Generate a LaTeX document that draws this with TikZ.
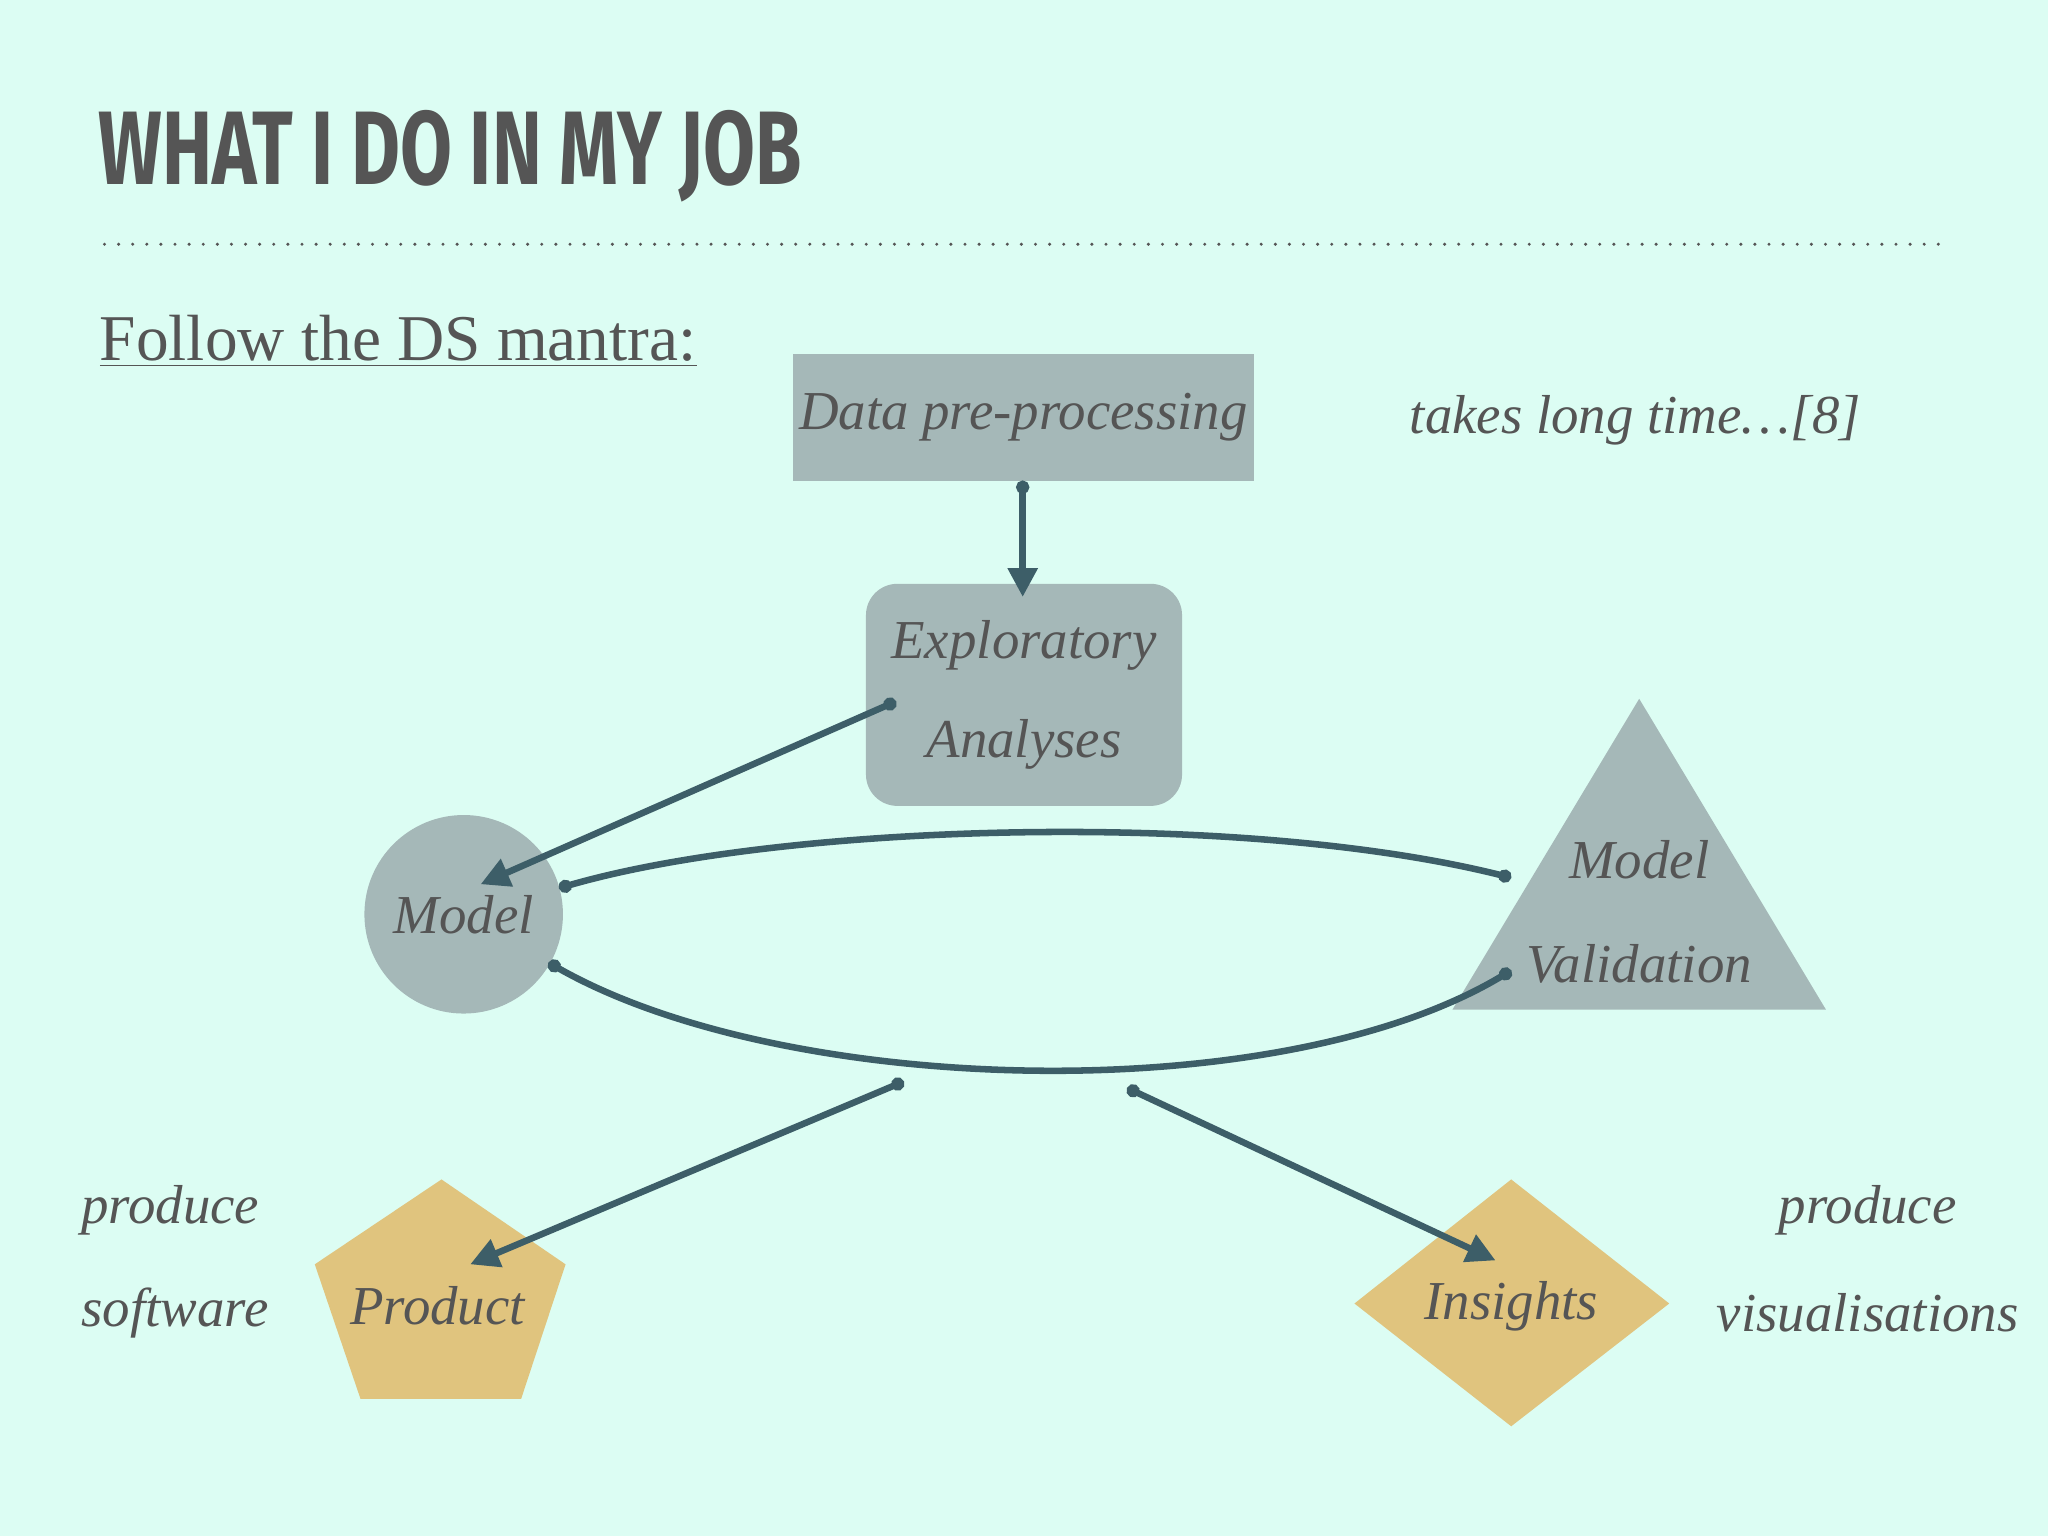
\documentclass[tikz,border=0pt]{standalone}
\usepackage{fontspec}
\setmainfont{Liberation Serif}
\newfontfamily\titlefont[FakeStretch=0.72]{Fira Sans}
\usetikzlibrary{arrows.meta,shapes.geometric}
\definecolor{bg}{HTML}{DCFDF3}
\definecolor{boxg}{HTML}{A5B8B8}
\definecolor{arr}{HTML}{3D5E68}
\definecolor{gold}{HTML}{E0C47E}
\definecolor{txt}{HTML}{555555}
\begin{document}
\begin{tikzpicture}[x=0.5pt,y=-0.5pt,
  lbl/.style={font=\itshape\fontsize{21}{24}\selectfont,text=txt,inner sep=0},
  conn/.style={draw=arr,line width=2.5pt,{Circle[length=5pt]}-{Triangle[length=11pt,width=11pt]}},
  curv/.style={draw=arr,line width=2.5pt,{Circle[length=5pt]}-{Circle[length=5pt]}}]
\fill[bg] (0,0) rectangle (1568,1176);
\useasboundingbox (0,0) rectangle (1568,1176);
\node[anchor=west,text=txt,inner sep=0,font=\titlefont\bfseries\fontsize{40}{44}\selectfont] (title) at (75,120) {WHAT I DO IN MY JOB};
\draw[txt,line width=1.3pt,dash pattern=on 0pt off 5.4pt,line cap=round] (80,187) -- (1490,187);
\node[anchor=base west,text=txt,inner sep=0,font=\fontsize{25}{28}\selectfont] (mantra) at (76,276) {\underline{Follow the DS mantra:}};
\node[fill=boxg,minimum width=176.5pt,minimum height=48.5pt,lbl] (dp) at (783.5,319.5) {Data pre-processing};
\node[lbl] (tl) at (1252,322) {takes long time…[8]};
\node[fill=boxg,rounded corners=12pt,minimum width=121pt,minimum height=85pt,lbl,align=center] (ea) at (784,532) {Exploratory\\[14pt]Analyses};
\node[circle,fill=boxg,minimum size=76pt,lbl] (model) at (355,700) {Model};
\fill[boxg] (1255,535) -- (1398,773) -- (1112,773) -- cycle;
\node[lbl] (mv1) at (1255,658) {Model};
\node[lbl] (mv2) at (1255,738) {Validation};
\fill[gold] (338,903) -- (433,968) -- (399,1071) -- (276,1071) -- (241,968) -- cycle;
\node[lbl] (prod) at (335,1000) {Product};
\fill[gold] (1157,903) -- (1278,998) -- (1157,1092) -- (1037,998) -- cycle;
\node[lbl] (ins) at (1157,1000) {Insights};
\node[lbl,anchor=west] (p1) at (62,927) {produce};
\node[lbl,anchor=west] (p2) at (62,1005) {software};
\node[lbl] (p3) at (1430,927) {produce};
\node[lbl] (p4) at (1430,1005) {visualisations};
\coordinate (a1) at (783,368); \coordinate (b1) at (783,457);
\coordinate (a2) at (686,537); \coordinate (b2) at (368,677);
\coordinate (c1) at (428,680); \coordinate (c2) at (1157,672);
\coordinate (d1) at (420,737); \coordinate (d2) at (1157,743);
\coordinate (a3) at (692,828); \coordinate (b3) at (360,968);
\coordinate (a4) at (863,833); \coordinate (b4) at (1145,965);
\draw[conn] (a1) -- (b1);
\draw[conn] (a2) -- (b2);
\draw[curv] (c1) .. controls (600,630) and (950,620) .. (c2);
\draw[curv] (d1) .. controls (600,840) and (980,850) .. (d2);
\draw[conn] (a3) -- (b3);
\draw[conn] (a4) -- (b4);
\end{tikzpicture}
\end{document}
